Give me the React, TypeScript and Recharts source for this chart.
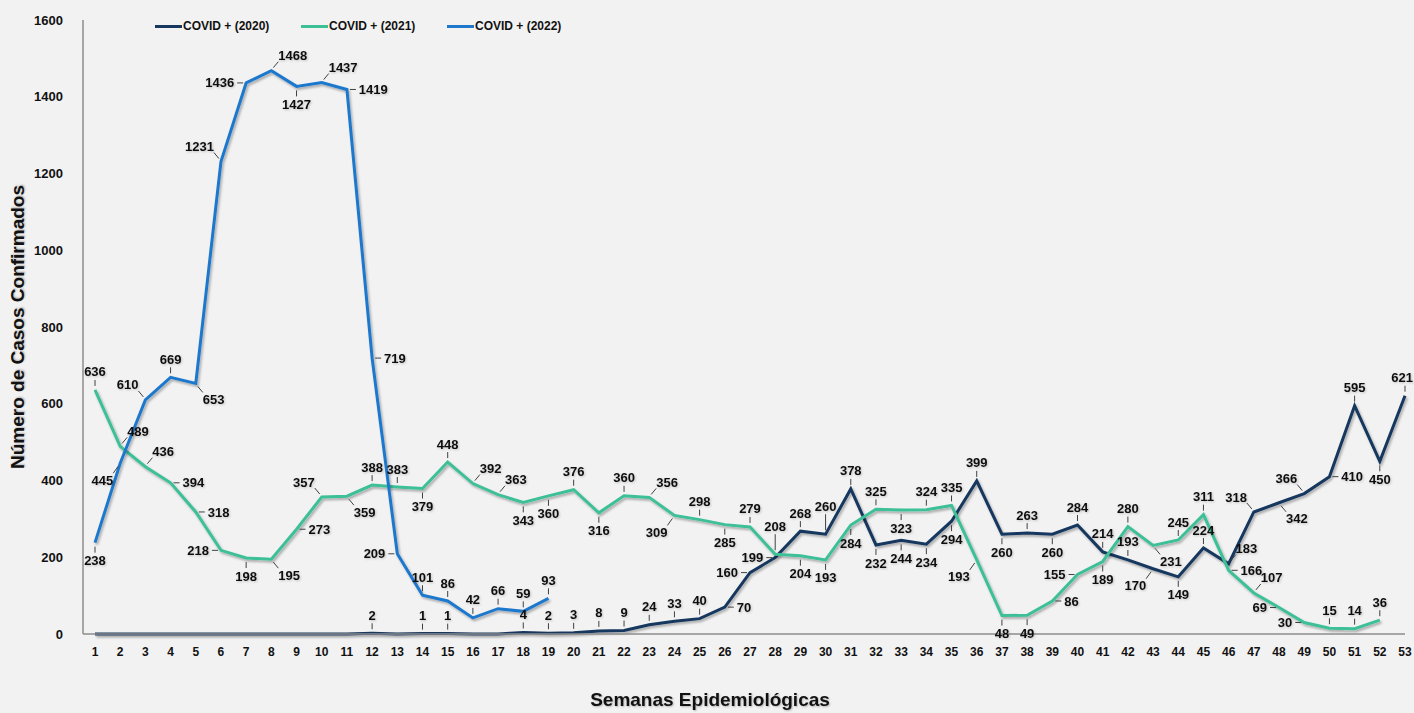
import React from "react";
import { LineChart, Line, XAxis, YAxis } from "recharts";

const WEEKS = Array.from({ length: 53 }, (_, i) => i + 1);

const CASES_2020 = [
  0, 0, 0, 0, 0, 0, 0, 0, 0, 0, 0, 2, 0, 1, 1, 0, 0, 4, 2, 3, 8, 9, 24, 33, 40, 70,
  160, 199, 268, 260, 378, 232, 244, 234, 294, 399, 260, 263, 260, 284, 214, 193,
  170, 149, 224, 183, 318, 342, 366, 410, 595, 450, 621,
];
const CASES_2021 = [
  636, 489, 436, 394, 318, 218, 198, 195, 273, 357, 359, 388, 383, 379, 448, 392,
  363, 343, 360, 376, 316, 360, 356, 309, 298, 285, 279, 208, 204, 193, 284, 325,
  323, 324, 335, 193, 48, 49, 86, 155, 189, 280, 231, 245, 311, 166, 107, 69, 30,
  15, 14, 36,
];
const CASES_2022 = [
  238, 445, 610, 669, 653, 1231, 1436, 1468, 1427, 1437, 1419, 719, 209, 101, 86,
  42, 66, 59, 93,
];
const Y_TICKS = [0, 200, 400, 600, 800, 1000, 1200, 1400, 1600];

// where each data label sits relative to its point
const POS_2020 = [
  "", "", "", "", "", "", "", "", "", "", "", "t", "", "t", "t", "", "", "t", "t", "t",
  "t", "t", "t", "t", "t", "r", "l", "l", "t", "T", "t", "b", "b", "b", "b", "t", "b",
  "t", "b", "t", "t", "t", "bl", "b", "t", "tr", "tl", "br", "tl", "r", "t", "b", "t",
];
const POS_2021 = [
  "t", "tr", "tr", "r", "r", "l", "b", "br", "r", "tl", "br", "t", "t", "b", "t", "tr",
  "tr", "b", "b", "t", "b", "t", "tr", "bl", "t", "b", "t", "T", "b", "b", "b", "t",
  "b", "t", "t", "bl", "b", "b", "r", "l", "b", "t", "br", "t", "t", "r", "tr", "l",
  "l", "t", "t", "t",
];
const POS_2022 = [
  "b", "bl", "tl", "t", "br", "tl", "l", "tr", "b", "tr", "r", "r", "l", "t", "t", "t",
  "t", "t", "t",
];

const C2020 = "#17375e";
const C2021 = "#3dbf97";
const C2022 = "#1f78cc";
const FONT = "'Liberation Sans', Arial, sans-serif";
const WIDTH = 1414;

const data = WEEKS.map((w, i) => ({
  week: w,
  c2020: CASES_2020[i],
  c2021: CASES_2021[i],
  c2022: CASES_2022[i],
}));

function makeLabel(pos: string[]) {
  return (props: any) => {
    const { x, y, value, index } = props;
    const p = pos[index];
    if (!p || value == null || value === 0) return null;
    const w = String(value).length * 7.2;
    let cx = x, cy = y, lx1 = x, ly1 = y, lx2 = x, ly2 = y;
    if (p === "t") { cy = y - 18; ly1 = y - 4; ly2 = y - 10; }
    else if (p === "T") { cy = y - 28; ly1 = y - 4; ly2 = y - 20; }
    else if (p === "b") { cy = y + 18; ly1 = y + 4; ly2 = y + 10; }
    else if (p === "l") { cx = x - w / 2 - 12; lx1 = x - 3; lx2 = x - 9; }
    else if (p === "r") { cx = x + w / 2 + 12; lx1 = x + 3; lx2 = x + 9; }
    else if (p === "tl") { cx = x - w / 2 - 7; cy = y - 15; lx1 = x - 2; ly1 = y - 3; lx2 = x - 7; ly2 = y - 9; }
    else if (p === "tr") { cx = x + w / 2 + 7; cy = y - 15; lx1 = x + 2; ly1 = y - 3; lx2 = x + 7; ly2 = y - 9; }
    else if (p === "bl") { cx = x - w / 2 - 7; cy = y + 17; lx1 = x - 2; ly1 = y + 3; lx2 = x - 7; ly2 = y + 10; }
    else if (p === "br") { cx = x + w / 2 + 7; cy = y + 16; lx1 = x + 2; ly1 = y + 3; lx2 = x + 7; ly2 = y + 9; }
    cx = Math.min(cx, WIDTH - w / 2 - 1);
    return (
      <g>
        <line x1={lx1} y1={ly1} x2={lx2} y2={ly2} stroke="#404040" strokeWidth={1} />
        <text
          x={cx}
          y={cy}
          dy="0.35em"
          textAnchor="middle"
          fontFamily={FONT}
          fontWeight="bold"
          fontSize={13}
          fill="#111"
          filter="url(#txtShadow)"
        >
          {value}
        </text>
      </g>
    );
  };
}

const LEGEND = [
  { name: "COVID + (2020)", color: C2020 },
  { name: "COVID + (2021)", color: C2021 },
  { name: "COVID + (2022)", color: C2022 },
];

export default function App() {
  return (
    <div
      style={{
        position: "fixed",
        left: 0,
        top: 0,
        width: WIDTH,
        height: 713,
        background: "#f2f2f2",
        fontFamily: FONT,
      }}
    >
      <LineChart
        width={WIDTH}
        height={713}
        data={data}
        margin={{ top: 20, right: 9, left: 0, bottom: 49 }}
      >
        <defs>
          <filter id="lineShadow" x="-5%" y="-5%" width="110%" height="110%">
            <feDropShadow dx="1.5" dy="2" stdDeviation="1.2" floodColor="#000" floodOpacity="0.3" />
          </filter>
          <filter id="txtShadow" x="-20%" y="-20%" width="140%" height="140%">
            <feDropShadow dx="1" dy="1" stdDeviation="0.8" floodColor="#000" floodOpacity="0.2" />
          </filter>
        </defs>
        <XAxis
          dataKey="week"
          height={30}
          padding={{ left: 12, right: 0 }}
          interval={0}
          tickLine={false}
          tickSize={0}
          tickMargin={13}
          axisLine={{ stroke: "#8c8c8c", strokeWidth: 1.5 }}
          tick={{ fontSize: 12, fontWeight: "bold", fill: "#111", fontFamily: FONT }}
        />
        <YAxis
          width={83}
          domain={[0, 1600]}
          ticks={Y_TICKS}
          interval={0}
          tickLine={false}
          tickSize={0}
          tickMargin={20}
          axisLine={{ stroke: "#8c8c8c", strokeWidth: 1.5 }}
          tick={{ fontSize: 13, fontWeight: "bold", fill: "#111", fontFamily: FONT }}
        />
        <Line
          dataKey="c2020"
          stroke={C2020}
          strokeWidth={3}
          dot={false}
          filter="url(#lineShadow)"
          isAnimationActive={false}
          label={makeLabel(POS_2020)}
        />
        <Line
          dataKey="c2021"
          stroke={C2021}
          strokeWidth={3}
          dot={false}
          filter="url(#lineShadow)"
          isAnimationActive={false}
          label={makeLabel(POS_2021)}
        />
        <Line
          dataKey="c2022"
          stroke={C2022}
          strokeWidth={3}
          dot={false}
          filter="url(#lineShadow)"
          isAnimationActive={false}
          label={makeLabel(POS_2022)}
        />
      </LineChart>

      <div style={{ position: "absolute", left: 155, top: 19, display: "flex" }}>
        {LEGEND.map((l) => (
          <div key={l.name} style={{ display: "flex", alignItems: "center", width: 146 }}>
            <span style={{ width: 27, height: 3, background: l.color, display: "inline-block" }} />
            <span style={{ fontSize: 12, fontWeight: "bold", color: "#111", marginLeft: 1 }}>{l.name}</span>
          </div>
        ))}
      </div>

      <div
        style={{
          position: "absolute",
          left: 18,
          top: 327,
          transform: "translate(-50%, -50%) rotate(-90deg)",
          whiteSpace: "nowrap",
          fontSize: 19,
          fontWeight: "bold",
          color: "#111",
          textShadow: "1px 1px 2px rgba(0,0,0,0.25)",
        }}
      >
        Número de Casos Confirmados
      </div>
      <div
        style={{
          position: "absolute",
          left: 710,
          top: 700,
          transform: "translate(-50%, -50%)",
          whiteSpace: "nowrap",
          fontSize: 19,
          fontWeight: "bold",
          color: "#111",
          textShadow: "1px 1px 2px rgba(0,0,0,0.25)",
        }}
      >
        Semanas Epidemiológicas
      </div>
    </div>
  );
}
